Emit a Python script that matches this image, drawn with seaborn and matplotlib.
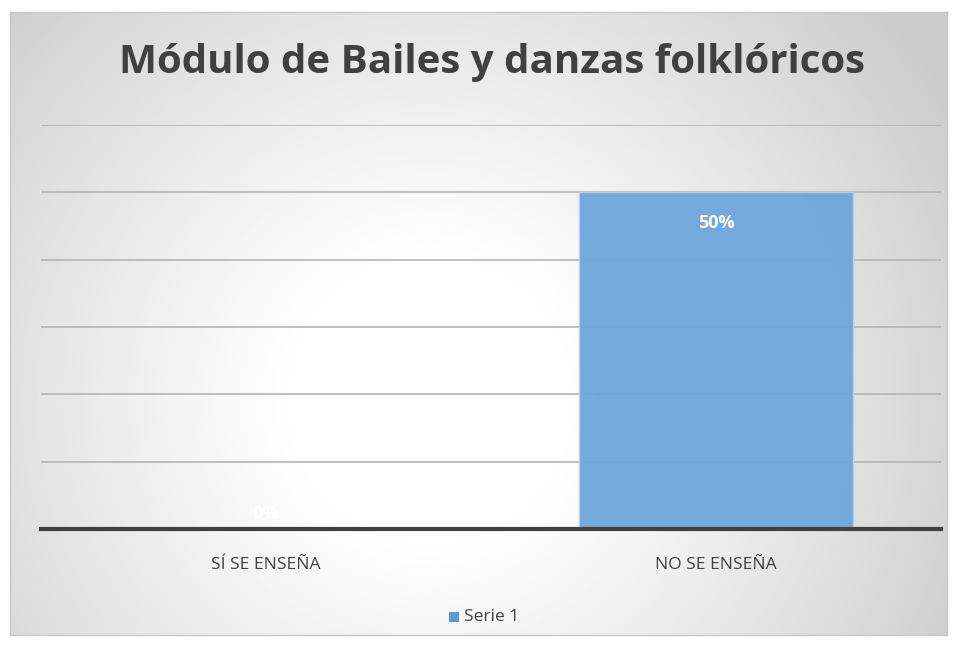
import numpy as np
import pandas as pd
import matplotlib
matplotlib.use("Agg")
import matplotlib.pyplot as plt
import seaborn as sns
from matplotlib.patches import Rectangle

# data
categories = ["SÍ SE ENSEÑA", "NO SE ENSEÑA"]
values = [0, 50]
labels = ["0%", "50%"]
series_name = "Serie 1"

df = pd.DataFrame({"cat": categories, "val": values})

sns.set_theme(style="white")
plt.rcParams["font.family"] = ["Open Sans", "DejaVu Sans"]

W, H = 959, 646
fig = plt.figure(figsize=(W / 100, H / 100), dpi=100)
fig.patch.set_facecolor("white")

# chart frame with radial gradient background
x0, y0, x1, y1 = 10, 12, 947, 635
bg = fig.add_axes([x0 / W, 1 - y1 / H, (x1 - x0) / W, (y1 - y0) / H])
gx, gy = np.meshgrid(np.linspace(x0, x1, 400), np.linspace(y0, y1, 300))
r = np.sqrt((gx - 430) ** 2 + (gy - 400) ** 2) / 600
t = np.clip((r - 0.22) / 0.78, 0, 1)
shade = 1 - 0.2 * t ** 1.1
bg.imshow(shade, cmap="gray", vmin=0, vmax=1, aspect="auto",
          extent=[0, 1, 0, 1], interpolation="bilinear")
bg.set_xlim(0, 1)
bg.set_ylim(0, 1)
bg.set_xticks([])
bg.set_yticks([])
for s in bg.spines.values():
    s.set_color("#c8c8c8")
    s.set_linewidth(1)

# plot area
left, right, top, bottom = 41, 941, 125, 529
ax = fig.add_axes([left / W, 1 - bottom / H, (right - left) / W, (bottom - top) / H])
ax.patch.set_alpha(0)
sns.barplot(data=df, x="cat", y="val", color="#70a7db", alpha=0.97, saturation=1,
            width=0.61, ax=ax, zorder=3, edgecolor="#b4d0ec", linewidth=1)
ax.set_ylim(0, 60)
ax.set_xlim(-0.5, 1.5)
ax.set_yticks(range(0, 70, 10))
ax.yaxis.grid(True, color="#b4b4b4", linewidth=1.2, zorder=0)
ax.set_axisbelow(True)
ax.tick_params(axis="y", left=False, labelleft=False)
ax.tick_params(axis="x", bottom=False, labelsize=12.5, labelcolor="#404040", pad=14)
ax.set_xlabel("")
ax.set_ylabel("")
for s in ["top", "right", "left"]:
    ax.spines[s].set_visible(False)
ax.spines["bottom"].set_color("#404040")
ax.spines["bottom"].set_linewidth(3)
ax.spines["bottom"].set_zorder(5)

for i, (v, lab) in enumerate(zip(values, labels)):
    if v > 0:
        ax.text(i, v - 4.5, lab, ha="center", va="center", color="white",
                fontsize=13, fontweight="bold", zorder=6)
    else:
        ax.text(i, 2.2, lab, ha="center", va="center", color="white",
                fontsize=13, fontweight="bold", zorder=6)

fig.text(492 / W, 1 - 63 / H, "Módulo de Bailes y danzas folklóricos",
         ha="center", va="center", fontsize=29, fontweight="bold", color="#404040")

# legend
fig.patches.append(Rectangle((449 / W, 1 - 622 / H), 10 / W, 10 / H,
                             transform=fig.transFigure, facecolor="#5B9BD5",
                             edgecolor="none"))
fig.text(464 / W, 1 - 617 / H, series_name, ha="left", va="center",
         fontsize=12.5, color="#404040")

fig.savefig("out.png", dpi=100)
